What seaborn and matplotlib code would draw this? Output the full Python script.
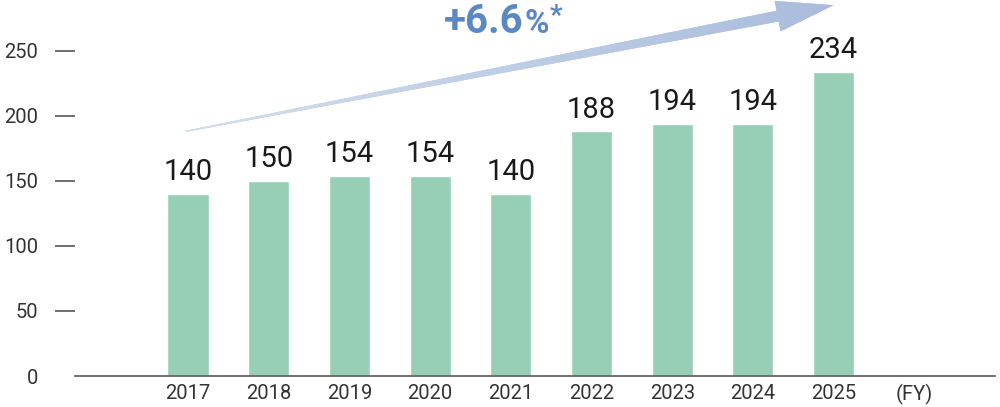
import matplotlib.pyplot as plt
import matplotlib.patches as mpatches
from matplotlib.colors import LinearSegmentedColormap
import numpy as np
import pandas as pd
import seaborn as sns

# データ
years = ['2017', '2018', '2019', '2020', '2021', '2022', '2023', '2024', '2025']
values = [140, 150, 154, 154, 140, 188, 194, 194, 234]
unit_label = '(FY)'
yticks = [0, 50, 100, 150, 200, 250]
growth_text = '+6.6'

sns.set_theme(style='white')
plt.rcParams['font.family'] = ['Roboto', 'DejaVu Sans']

df = pd.DataFrame({'year': years, 'value': values})

fig = plt.figure(figsize=(10, 4.07), dpi=100)
ax = fig.add_axes([0.075, 31 / 407, 0.92, 376 / 407])

sns.barplot(data=df, x='year', y='value', order=years + [unit_label],
            color='#96CFB6', saturation=1, width=0.51, ax=ax)

ax.set_xlim(-1.4, 10.0)
ax.set_ylim(0, 289)
ax.set_yticks(yticks)
ax.set_xlabel('')
ax.set_ylabel('')

for s in ['top', 'right', 'left']:
    ax.spines[s].set_visible(False)
ax.spines['bottom'].set_color('#666666')
ax.spines['bottom'].set_linewidth(1.3)

ax.tick_params(axis='y', direction='out', length=14.4, width=1.2, color='#555555',
               pad=12, labelsize=14.5, labelcolor='#333333', left=True)
ax.tick_params(axis='x', length=0, pad=6, labelsize=14.5, labelcolor='#333333')
# 0 の目盛り線は描かない
ax.yaxis.get_major_ticks()[0].tick1line.set_visible(False)

# 値ラベル
for i, v in enumerate(values):
    ax.text(i, v + 6, str(v), ha='center', va='bottom', fontsize=21, color='#1a1a1a')

# 矢印（先細りの軸 + グラデーション）
fig.canvas.draw()
p0 = ax.transData.transform((-0.03, 188))
p1 = ax.transData.transform((8.0, 285))
d = (p1 - p0) / np.linalg.norm(p1 - p0)
n = np.array([-d[1], d[0]])
head_len = 57
hb = p1 - d * head_len
poly_px = np.array([p0 + n * 0.6, hb + n * 5.5, hb + n * 15.5, p1,
                    hb - n * 15.5, hb - n * 5.5, p0 - n * 0.6])
poly = ax.transData.inverted().transform(poly_px)
arrow = mpatches.Polygon(poly, closed=True, facecolor='#AFC1DF',
                         edgecolor='none', zorder=1, clip_on=False)
ax.add_patch(arrow)
grad = np.linspace(0, 1, 256).reshape(1, -1)
cmap = LinearSegmentedColormap.from_list('g', ['#D5DFEF', '#A9BCDC'])
im = ax.imshow(grad, cmap=cmap, extent=[-0.1, 8.1, 170, 300], aspect='auto',
               zorder=2, clip_on=True)
im.set_clip_path(arrow)
ax.set_xlim(-1.4, 10.0)
ax.set_ylim(0, 289)

# 成長率テキスト
blue = '#5B88C1'
base_y = (407 - 33) / 407
t1 = fig.text(0.444, base_y, growth_text, fontsize=29, fontweight='bold',
              color=blue, ha='left', va='baseline')
fig.canvas.draw()
r = fig.canvas.get_renderer()
x1 = fig.transFigure.inverted().transform((t1.get_window_extent(r).x1, 0))[0]
t2 = fig.text(x1 + 0.001, base_y, '%', fontsize=24, fontweight='bold',
              color=blue, ha='left', va='baseline')
fig.canvas.draw()
x2 = fig.transFigure.inverted().transform((t2.get_window_extent(r).x1, 0))[0]
t3 = fig.text(x2, 1 - 3 / 407, '*', fontsize=20, fontweight='bold',
              color=blue, ha='left', va='top')

fig.savefig('out.png', dpi=100)
